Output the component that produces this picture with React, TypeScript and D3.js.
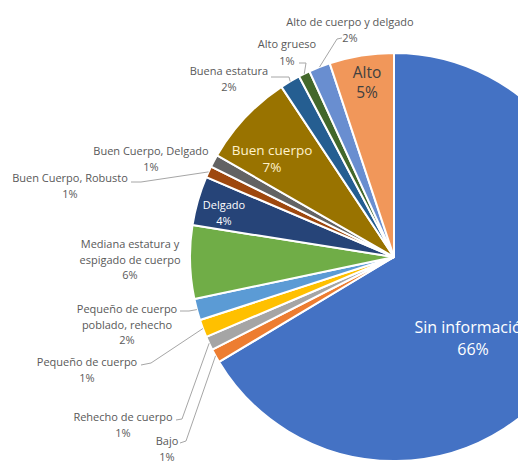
import React from "react";
import * as d3 from "d3";

const categories = [
  "Sin información",
  "Bajo",
  "Rehecho de cuerpo",
  "Pequeño de cuerpo",
  "Pequeño de cuerpo poblado, rehecho",
  "Mediana estatura y espigado de cuerpo",
  "Delgado",
  "Buen Cuerpo, Robusto",
  "Buen Cuerpo, Delgado",
  "Buen cuerpo",
  "Buena estatura",
  "Alto grueso",
  "Alto de cuerpo y delgado",
  "Alto",
];
const values = [66.4, 1.1, 1.1, 1.4, 1.7, 5.8, 3.9, 0.9, 1.0, 7.4, 1.6, 0.9, 1.7, 5.1];
const colors = [
  "#4472C4", "#ED7D31", "#A5A5A5", "#FFC000", "#5B9BD5", "#70AD47", "#264478",
  "#9E480E", "#636363", "#997300", "#255E91", "#43682B", "#698ED0", "#F1975A",
];

type Lbl = {
  lines?: string[];
  x: number;
  y: number;
  size?: number;
  fill?: string;
  lh?: number;
  line?: [number, number][];
};

const W = 518;
const H = 462;
const CX = 394;
const CY = 257;
const R = 204;
const FONT = "'Open Sans', 'Noto Sans', sans-serif";
const GRAY = "#595959";

const layout: Lbl[] = [
  { x: 473, y: 333, size: 16, fill: "#ffffff", lh: 22 },
  { x: 167, y: 445, line: [[180, 443], [186, 441]] },
  { x: 123, y: 421, line: [[176, 420], [182, 419]] },
  { x: 87, y: 366, line: [[141, 365], [151, 363]] },
  { lines: ["Pequeño de cuerpo", "poblado, rehecho"], x: 127, y: 313, line: [[180, 311], [189, 311]] },
  { lines: ["Mediana estatura y", "espigado de cuerpo"], x: 130, y: 248 },
  { x: 224, y: 209, size: 11, fill: "#ffffff", lh: 16 },
  { x: 70, y: 182, line: [[131, 182], [141, 182]] },
  { x: 151, y: 155 },
  { x: 272, y: 155, size: 13.5, fill: "#FFF2CC", lh: 17 },
  { x: 229, y: 75, line: [[271, 77], [289, 77]] },
  { x: 287, y: 48, lh: 16.5, line: [[299, 63], [306, 63]] },
  { x: 350, y: 26, line: [[342, 38], [337, 39]] },
  { x: 367, y: 78, size: 15.5, fill: "#404040", lh: 20 },
];

export default function App() {
  const total = d3.sum(values);
  const pie = d3
    .pie<number>()
    .sort(null)
    .value((d) => d)
    .startAngle(0)
    .endAngle(2 * Math.PI);
  const arcs = pie(values);
  const arc = d3.arc<d3.PieArcDatum<number>>().innerRadius(0).outerRadius(R);
  const edge = d3.arc<d3.PieArcDatum<number>>().innerRadius(R).outerRadius(R);

  return (
    <svg
      width={W}
      height={H}
      style={{ position: "absolute", left: 0, top: 0, background: "#fff" }}
      fontFamily={FONT}
    >
      <g transform={`translate(${CX},${CY})`}>
        {arcs.map((a, i) => (
          <path key={i} d={arc(a) || ""} fill={colors[i]} stroke="#fff" strokeWidth={2} strokeLinejoin="round" />
        ))}
      </g>
      {arcs.map((a, i) => {
        const L = layout[i];
        if (!L.line) return null;
        const [ex, ey] = edge.centroid(a);
        const pts: [number, number][] = [...L.line, [ex + CX, ey + CY]];
        return (
          <path
            key={"l" + i}
            d={d3.line()(pts) || ""}
            fill="none"
            stroke="#A6A6A6"
            strokeWidth={1}
          />
        );
      })}
      {arcs.map((a, i) => {
        const L = layout[i];
        const lines = [...(L.lines || [categories[i]]), `${Math.round((values[i] / total) * 100)}%`];
        const lh = L.lh || 15.5;
        return (
          <text
            key={"t" + i}
            x={L.x}
            y={L.y}
            textAnchor="middle"
            fontSize={L.size || 11}
            fill={L.fill || GRAY}
          >
            {lines.map((s, k) => (
              <tspan key={k} x={L.x} y={L.y + k * lh}>
                {s}
              </tspan>
            ))}
          </text>
        );
      })}
    </svg>
  );
}
